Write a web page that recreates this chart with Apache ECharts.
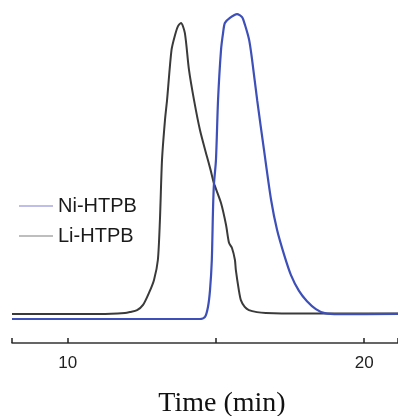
<!DOCTYPE html>
<html>
<head>
<meta charset="utf-8">
<script src="https://cdn.jsdelivr.net/npm/echarts@6/dist/echarts.min.js"></script>
<style>
html,body{margin:0;padding:0;background:#fff;}
#chart{width:398px;height:416px;}
</style>
</head>
<body>
<div id="chart"></div>
<script>
const seriesNames = ['Ni-HTPB', 'Li-HTPB'];
const labelValues = [10, 20];

const liX = [8.12, 11.09, 11.93, 12.10, 12.34, 12.54, 12.74, 12.91, 13.04, 13.11, 13.18, 13.28, 13.35, 13.50, 13.62, 13.72, 13.82, 13.95, 14.09, 14.26, 14.46, 14.70, 14.82, 14.93, 15.17, 15.34, 15.44, 15.54, 15.64, 15.67, 15.77, 15.84, 15.97, 16.11, 16.38, 16.68, 17.79, 21.14];
const liY = [8.45, 8.45, 8.75, 9.04, 9.6, 11.1, 14.6, 18.4, 24.2, 35.9, 53.4, 65, 70.8, 85.4, 89.8, 92.4, 93.3, 90.4, 79.6, 70.8, 62.1, 54.2, 50.4, 46.6, 40.8, 34.4, 29.2, 27.7, 24.2, 21.3, 15.5, 12.5, 10.5, 9.6, 9.0, 8.75, 8.6, 8.6];

const niX = [8.12, 14.46, 14.63, 14.73, 14.80, 14.86, 14.90, 14.93, 15.00, 15.07, 15.17, 15.24, 15.30, 15.47, 15.71, 15.88, 15.98, 16.12, 16.22, 16.39, 16.62, 16.86, 17.06, 17.30, 17.53, 17.80, 18.07, 18.37, 18.67, 19.14, 21.14];
const niY = [7.0, 7.0, 7.6, 10.5, 15.5, 24.2, 38.8, 46.1, 53.4, 70.8, 85.4, 90.4, 93.3, 94.8, 95.9, 95.0, 92.7, 88.3, 82.5, 70.8, 56.3, 41.7, 33.0, 25.7, 19.8, 15.2, 12.2, 9.9, 8.7, 8.4, 8.5];

const zip = (xs, ys) => xs.map((x, i) => [x, ys[i]]);

const chart = echarts.init(document.getElementById('chart'), null, {renderer: 'canvas'});
chart.setOption({
  animation: false,
  backgroundColor: '#fff',
  grid: {left: 12, right: 0, top: 0, bottom: 73, containLabel: false, outerBoundsMode: 'none'},
  legend: {
    orient: 'vertical',
    left: 14,
    top: 191,
    itemGap: 10,
    itemWidth: 34,
    itemHeight: 1.5,
    textStyle: {fontFamily: 'Liberation Sans, Arial, sans-serif', fontSize: 20, color: '#1a1a1a'},
    data: [
      {name: seriesNames[0], icon: 'rect', itemStyle: {color: '#a9a9e0'}},
      {name: seriesNames[1], icon: 'rect', itemStyle: {color: '#a8a8a8'}}
    ]
  },
  xAxis: {
    type: 'value',
    min: 8.12,
    max: 21.14,
    splitNumber: 3,
    axisLine: {show: true, onZero: false, lineStyle: {color: '#333', width: 1.5}},
    axisTick: {show: true, inside: true, length: 5, lineStyle: {color: '#222', width: 1.5}},
    axisLabel: {show: true, customValues: labelValues, margin: 12, fontFamily: 'Liberation Sans, Arial, sans-serif', fontSize: 17, color: '#222'},
    splitLine: {show: false},
    name: 'Time (min)',
    nameLocation: 'middle',
    nameGap: 47,
    nameTextStyle: {fontFamily: 'Liberation Serif, Times New Roman, serif', fontSize: 28, color: '#111', padding: [0, 0, 0, 34]}
  },
  yAxis: {
    type: 'value',
    min: 0,
    max: 100,
    show: false
  },
  series: [
    {
      name: seriesNames[1],
      type: 'line',
      data: zip(liX, liY),
      showSymbol: false,
      smooth: 0.25,
      lineStyle: {color: '#3a3a3a', width: 2},
      itemStyle: {color: '#3a3a3a'}
    },
    {
      name: seriesNames[0],
      type: 'line',
      data: zip(niX, niY),
      showSymbol: false,
      smooth: 0.25,
      lineStyle: {color: '#3d4fb8', width: 2.2},
      itemStyle: {color: '#3d4fb8'}
    }
  ]
});
</script>
</body>
</html>
